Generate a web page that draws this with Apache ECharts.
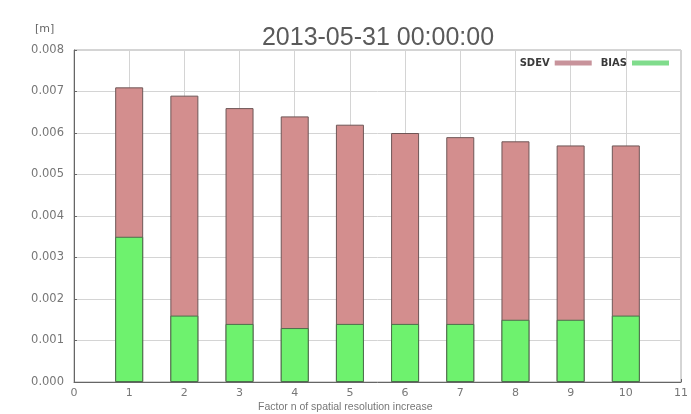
<!DOCTYPE html>
<html>
<head>
<meta charset="utf-8">
<script src="https://cdn.jsdelivr.net/npm/echarts@6/dist/echarts.min.js"></script>
<style>
  html, body { margin: 0; padding: 0; background: #fff; }
  #chart { width: 691px; height: 414px; }
</style>
</head>
<body>
<div id="chart"></div>
<script>
// Resolution factors on the x axis
const factors = [1, 2, 3, 4, 5, 6, 7, 8, 9, 10];
// Standard deviation per factor [m]
const sdev = [0.0071, 0.0069, 0.0066, 0.0064, 0.0062, 0.0060, 0.0059, 0.0058, 0.0057, 0.0057];
// Bias per factor [m]
const bias = [0.0035, 0.0016, 0.0014, 0.0013, 0.0014, 0.0014, 0.0014, 0.0015, 0.0015, 0.0016];

const titleText = '2013-05-31 00:00:00';
const unitText = '[m]';
const xName = 'Factor n of spatial resolution increase';

const labelFont = 'DejaVu Sans, Verdana, sans-serif';

const chart = echarts.init(document.getElementById('chart'), null, { renderer: 'canvas' });

const pairs = (ys) => factors.map((f, i) => [f, ys[i]]);

chart.setOption({
  animation: false,
  backgroundColor: '#ffffff',
  title: {
    text: titleText,
    left: 373, top: 21,
    textAlign: 'center',
    textStyle: { fontFamily: 'Liberation Sans, Arial, sans-serif', fontSize: 25, fontWeight: 'normal', color: '#5a5a5a' }
  },
  legend: {
    right: 17, top: 53,
    align: 'right',
    itemWidth: 37, itemHeight: 5,
    itemGap: 9,
    icon: 'rect',
    textStyle: { fontFamily: labelFont, fontSize: 10, fontWeight: 'bold', color: '#3a3a3a' },
    data: [
      { name: 'SDEV', itemStyle: { color: '#c8939b', borderWidth: 0 } },
      { name: 'BIAS', itemStyle: { color: '#80dc8c', borderWidth: 0 } }
    ]
  },
  grid: { left: 74, right: 7, top: 50, bottom: 32, show: true, borderColor: '#aaa', borderWidth: 1 },
  xAxis: {
    type: 'value', min: 0, max: 11, interval: 1,
    axisLine: { show: true, lineStyle: { color: '#666' } },
    axisTick: { show: true, length: 3, inside: true, lineStyle: { color: '#666' } },
    axisLabel: { fontFamily: labelFont, fontSize: 11, color: '#777', margin: 6 },
    splitLine: { show: true, lineStyle: { color: '#d4d4d4' } }
  },
  yAxis: {
    type: 'value', min: 0, max: 0.008, interval: 0.001,
    axisLine: { show: true, lineStyle: { color: '#666' } },
    axisTick: { show: true, length: 3, inside: true, lineStyle: { color: '#666' } },
    axisLabel: { fontFamily: labelFont, fontSize: 11.5, color: '#777', margin: 10,
      formatter: (v) => v.toFixed(3) },
    splitLine: { show: true, lineStyle: { color: '#d4d4d4' } }
  },
  graphic: [
    { type: 'text', left: 35, top: 24,
      style: { text: unitText, font: '11px DejaVu Sans, Verdana, sans-serif', fill: '#666' } },
    { type: 'text', left: 258, top: 402,
      style: { text: xName, font: '10.5px Liberation Sans, Arial, sans-serif', fill: '#777' } }
  ],
  series: [
    { name: 'SDEV', type: 'bar', barWidth: 28, barGap: '-100%',
      itemStyle: { color: '#d38e8e', borderColor: '#6e5656', borderWidth: 1 },
      data: pairs(sdev) },
    { name: 'BIAS', type: 'bar', barWidth: 28, barGap: '-100%',
      itemStyle: { color: '#6ef26e', borderColor: '#4c6e4c', borderWidth: 1 },
      data: pairs(bias) }
  ]
});
</script>
</body>
</html>
